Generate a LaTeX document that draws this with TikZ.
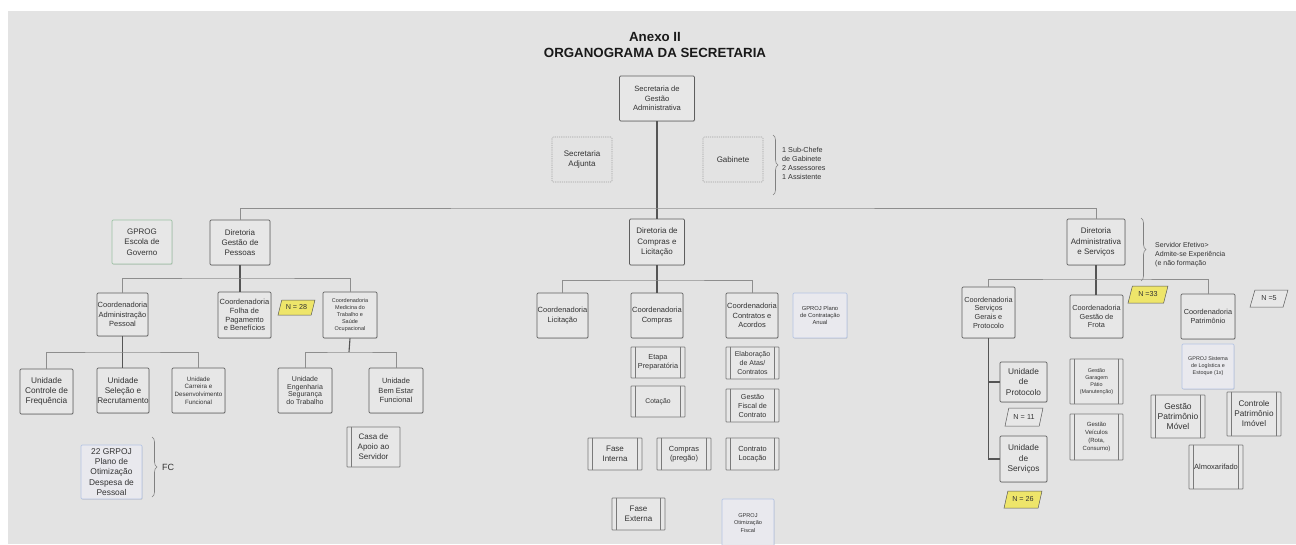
\documentclass[tikz,border=0pt]{standalone}
\usepackage{fontspec}
\setmainfont{Liberation Sans}
\usetikzlibrary{shapes.geometric,decorations.pathreplacing,shadows}
\definecolor{bg}{HTML}{E3E3E3}
\definecolor{boxfill}{HTML}{E7E7E7}
\definecolor{boxline}{HTML}{5E5E5E}
\definecolor{procline}{HTML}{7A7A7A}
\definecolor{ink}{HTML}{333333}
\definecolor{trunkc}{HTML}{555555}
\definecolor{linkc}{HTML}{8E8E8E}
\definecolor{blueline}{HTML}{B4C4E4}
\definecolor{bluefill}{HTML}{E9E9EE}
\definecolor{greenline}{HTML}{9CC2A4}
\definecolor{tagyellow}{HTML}{EEE56A}
\tikzset{
  sz/.style 2 args={minimum width=#1pt, minimum height=#2pt},
  txt/.style 2 args={font=\fontsize{#1}{#2}\selectfont},
  box/.style={draw=boxline, fill=boxfill, rounded corners=1.2pt, line width=0.7pt,
    inner sep=0pt, align=center, text=ink,
    drop shadow={shadow xshift=0.7pt, shadow yshift=-0.9pt, opacity=0.22}},
  gbox/.style={box, draw=greenline},
  bbox/.style={box, draw=blueline, fill=bluefill},
  dbox/.style={draw=gray!75, dash pattern=on 1.2pt off 1pt, line width=0.6pt, fill=bg,
    rounded corners=1.2pt, inner sep=0pt, align=center, text=ink},
  pbox/.style={draw=procline, fill=boxfill, rounded corners=0.6pt, line width=0.6pt,
    inner sep=0pt, align=center, text=ink},
  pline/.style={draw=procline, line width=0.6pt},
  tagbox/.style={trapezium, trapezium left angle=62, trapezium right angle=118,
    trapezium stretches=true, draw=gray!70!black, line width=0.5pt, inner sep=0pt,
    text=ink, font=\fontsize{7.2}{8.6}\selectfont},
  ytag/.style={tagbox, fill=tagyellow},
  wtag/.style={tagbox, fill=boxfill},
  note/.style={anchor=west, align=left, text=ink, inner sep=0pt},
  brc/.style={draw=gray, line width=0.6pt, decorate, decoration={brace, amplitude=5pt}},
  trunk/.style={draw=trunkc, line width=1.1pt},
  link/.style={draw=linkc, line width=0.8pt},
}
% double side lines of a process box
\newcommand\proclines[1]{%
  \draw[pline] ([xshift=5pt]#1.north west) -- ([xshift=5pt]#1.south west)
               ([xshift=-5pt]#1.north east) -- ([xshift=-5pt]#1.south east);}
\begin{document}
\begin{tikzpicture}[x=1pt, y=-1pt]
\useasboundingbox (0,0) rectangle (1296,544);
\clip (0,0) rectangle (1296,544);
\fill[white] (0,0) rectangle (1296,544);
\fill[bg] (8,11) rectangle (1296,544);

% title
\node[font=\fontsize{13.3}{15}\bfseries, text=black!90] (t1) at (655,37) {Anexo II};
\node[font=\fontsize{13.3}{15}\bfseries, text=black!90] (t2) at (655,53) {ORGANOGRAMA DA SECRETARIA};

% top level
\node[box,sz={75}{45},txt={7.6}{9.6}] (sga) at (657,98.5) {Secretaria de\\Gestão\\Administrativa};
\node[dbox,sz={60}{45},txt={8}{10}] (sadj) at (582,159.5) {Secretaria\\Adjunta};
\node[dbox,sz={60}{45},txt={8}{10}] (gab) at (733,159.5) {Gabinete};
\draw[brc] (773,135) -- (773,195);
\node[note,txt={7.2}{9}] (gabn) at (782,163) {1 Sub-Chefe\\de Gabinete\\2 Assessores\\1 Assistente};

% directorates
\node[gbox,sz={60}{44},txt={8}{10.3}] (gprog) at (142,242) {GPROG\\Escola de\\Governo};
\node[box,sz={60}{45},txt={8}{10.3}] (dgp) at (240,242.5) {Diretoria\\Gestão de\\Pessoas};
\node[box,sz={55}{46},txt={8}{10.3}] (dcl) at (657,242) {Diretoria de\\Compras e\\Licitação};
\node[box,sz={58}{46},txt={8}{10.3}] (das) at (1096,242) {Diretoria\\Administrativa\\e Serviços};
\draw[brc] (1141,218) -- (1141,281);
\node[note,txt={7}{9}] (dasn) at (1155,255) {Servidor Efetivo>\\Admite-se Experiência\\(e não formação};

% Gestão de Pessoas
\node[box,sz={51}{43},txt={7.5}{9.5}] (cap) at (122.5,314.5) {Coordenadoria\\Administração\\Pessoal};
\node[box,sz={53}{46},txt={7.5}{8.8}] (cfp) at (244.5,315) {Coordenadoria\\Folha de\\Pagamento\\e Benefícios};
\node[ytag,sz={37}{15}] (n28) at (296.5,307.5) {N = 28};
\node[box,sz={54}{46},txt={5.5}{7}] (cms) at (350,315) {Coordenadoria\\Medicina do\\Trabalho e\\Saúde\\Ocupacional};

\node[box,sz={53}{45},txt={8.3}{10.3}] (ucf) at (46.5,391.5) {Unidade\\Controle de\\Frequência};
\node[box,sz={52}{45},txt={8.2}{10.3}] (usr) at (123,390.5) {Unidade\\Seleção e\\Recrutamento};
\node[box,sz={53}{45},txt={6.2}{7.6}] (ucd) at (198.5,390.5) {Unidade\\Carreira e\\Desenvolvimento\\Funcional};
\node[box,sz={54}{45},txt={7}{7.8}] (ues) at (305,390.5) {Unidade\\Engenharia\\Segurança\\do Trabalho};
\node[box,sz={54}{45},txt={7.5}{9.3}] (ube) at (396,390.5) {Unidade\\Bem Estar\\Funcional};
\node[pbox,sz={53}{40},txt={8}{10}] (cas) at (373.5,447) {Casa de\\Apoio ao\\Servidor};
\draw[pline] ([xshift=5pt]cas.north west) -- ([xshift=5pt]cas.south west);

\node[bbox,sz={61}{54},txt={8.4}{10.4}] (gp22) at (111.5,472) {22 GRPOJ\\Plano de\\Otimização\\Despesa de\\Pessoal};
\draw[brc] (152,437) -- (152,497);
\node[note,txt={9}{10}] (fc) at (162,467) {FC};

% Compras e Licitação
\node[box,sz={51}{45},txt={7.5}{9.5}] (clic) at (562.5,315.5) {Coordenadoria\\Licitação};
\node[box,sz={52}{45},txt={7.5}{9.5}] (ccomp) at (657,315.5) {Coordenadoria\\Compras};
\node[box,sz={52}{45},txt={7.5}{9.5}] (ccont) at (752,315.5) {Coordenadoria\\Contratos e\\Acordos};
\node[bbox,sz={54}{45},txt={5.8}{7.4}] (gpca) at (820,315.5) {GPROJ Plano\\de Contratação\\Anual};

\node[pbox,sz={54}{31},txt={7.3}{9.3}] (etp) at (658,362.5) {Etapa\\Preparatória};
\node[pbox,sz={54}{31},txt={6.8}{8.5}] (cot) at (658,401.5) {Cotação};
\node[pbox,sz={53}{32},txt={7}{8.8}] (eac) at (752.5,363) {Elaboração\\de Atas/\\Contratos};
\node[pbox,sz={53}{33},txt={7.2}{9}] (gfc) at (752.5,405.5) {Gestão\\Fiscal de\\Contrato};
\node[pbox,sz={54}{32},txt={8}{10}] (fi) at (615,454) {Fase\\Interna};
\node[pbox,sz={54}{32},txt={7.4}{9.4}] (cpr) at (684,454) {Compras\\(pregão)};
\node[pbox,sz={53}{32},txt={7.4}{9.4}] (cloc) at (752.5,454) {Contrato\\Locação};
\node[pbox,sz={53}{32},txt={8}{10}] (fe) at (638.5,514) {Fase\\Externa};
\node[bbox,sz={52}{48},txt={5.6}{7.6}] (gof) at (748,523) {GPROJ\\Otimização\\Fiscal};
\foreach \n in {etp,cot,eac,gfc,fi,cpr,cloc,fe} {\proclines{\n}}

% Administrativa e Serviços
\node[box,sz={53}{51},txt={7.3}{8.6}] (csg) at (988.5,312.5) {Coordenadoria\\Serviços\\Gerais e\\Protocolo};
\node[box,sz={53}{43},txt={7.3}{8.4}] (cgf) at (1096.5,316.5) {Coordenadoria\\Gestão de\\Frota};
\node[ytag,sz={40}{17}] (n33) at (1148,294.5) {N =33};
\node[box,sz={54}{45},txt={7.3}{9}] (cpat) at (1208,316.5) {Coordenadoria\\Patrimônio};
\node[wtag,sz={38}{17}] (n5) at (1269,298.5) {N =5};

\node[box,sz={47}{40},txt={8.3}{10.2}] (udp) at (1023.5,382) {Unidade\\de\\Protocolo};
\node[wtag,sz={38}{18}] (n11) at (1024,417) {N =\,\,11};
\node[box,sz={47}{46},txt={8.3}{10.2}] (uss) at (1023.5,459) {Unidade\\de\\Serviços};
\node[ytag,sz={38}{17}] (n26) at (1023,499.5) {N = 26};

\node[pbox,sz={53}{45},txt={5.4}{6.8}] (ggp) at (1096.5,381.5) {Gestão\\Garagem\\Pátio\\(Manutenção)};
\node[pbox,sz={53}{46},txt={6}{7.8}] (gvr) at (1096.5,437) {Gestão\\Veículos\\(Rota,\\Consumo)};
\node[bbox,sz={52}{45},txt={5.4}{7}] (gsle) at (1208,366.5) {GPROJ Sistema\\de Logística e\\Estoque (1x)};
\node[pbox,sz={54}{43},txt={8.5}{10}] (gpm) at (1178,416.5) {Gestão\\Patrimônio\\Móvel};
\node[pbox,sz={54}{44},txt={8.2}{10}] (cpi) at (1254,414) {Controle\\Patrimônio\\Imóvel};
\node[pbox,sz={54}{44},txt={7.5}{9}] (alm) at (1216,467) {Almoxarifado};
\foreach \n in {ggp,gvr,gpm,cpi,alm} {\proclines{\n}}

% connectors
\coordinate (bM) at (657,208);
\coordinate (bL) at (240,278);
\coordinate (bC) at (123,352);
\coordinate (bE) at (349,352);
\coordinate (bD) at (657,280);
\coordinate (bR) at (1096,279);

\draw[trunk] (sga.south) -- (dcl.north);
\draw[link] (dgp.north) |- (bM) -| (das.north);

\draw[trunk] (dgp.south) -- (dgp.south |- cfp.north);
\draw[link] (cap.north) |- (bL) -| (cms.north);
\draw[trunk] (cap.south) -- (cap.south |- usr.north);
\draw[link] (ucf.north) |- (bC) -| (ucd.north);
\draw[trunk] (cms.south) -- (bE);
\draw[link] (ues.north) |- (bE) -| (ube.north);

\draw[trunk] (dcl.south) -- (ccomp.north);
\draw[link] (clic.north) |- (bD) -| (ccont.north);

\draw[trunk] (das.south) -- (das.south |- cgf.north);
\draw[link] (csg.north) |- (bR) -| (cpat.north);
\draw[trunk] (csg.south) |- (uss.west);
\draw[trunk] (csg.south |- udp.west) -- (udp.west);
\end{tikzpicture}
\end{document}
